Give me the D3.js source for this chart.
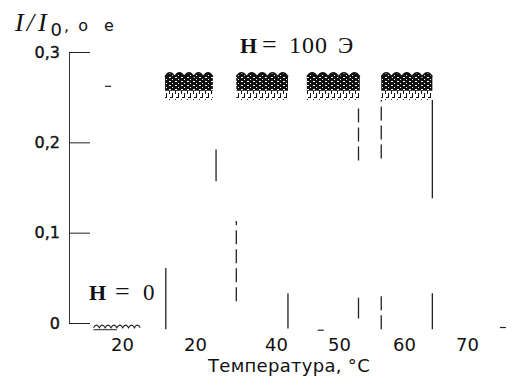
<!DOCTYPE html>
<html>
<head>
<meta charset="utf-8">
<script src="https://cdn.jsdelivr.net/npm/d3@7"></script>
<style>
  html, body { margin: 0; padding: 0; background: #fff; }
  svg { display: block; }
  .tick text { font-family: "DejaVu Sans", sans-serif; fill: #111; }
  .serif { font-family: "Liberation Serif", "Times New Roman", serif; fill: #111; }
</style>
</head>
<body>
<svg id="chart" width="514" height="391"></svg>
<script>
// axis ticks (second label is printed "20" in the original)
const xTicks = [20, 30, 40, 50, 60, 70];
const xTickLabels = ["20", "20", "40", "50", "60", "70"];
const yTicks = [0, 0.1, 0.2, 0.3];
const yTickLabels = ["0", "0,1", "0,2", "0,3"];

// H = 100 Э : temperature windows where the intensity oscillates near 0.26
const bandStart = [25.9, 35.1, 44.9, 56.5];
const bandEnd   = [32.2, 41.9, 53.2, 64.5];
const bandTop   = [0.277, 0.277, 0.277, 0.277];
const bandDense = [0.257, 0.257, 0.257, 0.257];
const bandLow   = [0.247, 0.247, 0.247, 0.247];

// vertical jumps between the windows
const segT    = [26.0, 32.6, 35.1, 41.9, 53.0, 53.0, 56.5, 56.5, 64.5, 64.5];
const segFrom = [-0.007, 0.157, 0.024, -0.006, 0.180, 0.005, 0.182, -0.007, 0.138, -0.007];
const segTo   = [0.061, 0.192, 0.113, 0.033, 0.241, 0.028, 0.247, 0.032, 0.247, 0.033];
const segDash = [false, false, true, false, true, false, true, true, false, false];

// stray short marks
const dashT = [18.1, 47.1, 75.7];
const dashV = [0.262, -0.008, -0.005];

// H = 0 : weak signal near zero
const h0Start = [16.1];
const h0End   = [22.5];
const h0Level = [-0.003];

const svg = d3.select("#chart");

const x = d3.scaleLinear().domain(xTicks).range([122, 195, 276, 339, 404, 467]);
const y = d3.scaleLinear().domain([0, 0.3]).range([323, 52]);

// patterns imitating the dense oscillation trace
const defs = svg.append("defs");
const dense = defs.append("pattern").attr("id", "dense")
  .attr("patternUnits", "userSpaceOnUse").attr("width", 6).attr("height", 4);
dense.append("rect").attr("width", 6).attr("height", 4).attr("fill", "#111");
dense.append("rect").attr("x", 1).attr("y", 1).attr("width", 2).attr("height", 1).attr("fill", "#fff");
dense.append("rect").attr("x", 4).attr("y", 3).attr("width", 1).attr("height", 1).attr("fill", "#fff");

const sparse = defs.append("pattern").attr("id", "sparse")
  .attr("patternUnits", "userSpaceOnUse").attr("width", 6).attr("height", 9);
sparse.append("rect").attr("x", 1).attr("y", 0).attr("width", 1).attr("height", 4).attr("fill", "#111");
sparse.append("rect").attr("x", 4).attr("y", 3).attr("width", 1).attr("height", 5).attr("fill", "#111");
sparse.append("rect").attr("x", 2).attr("y", 7).attr("width", 2).attr("height", 1).attr("fill", "#111");

// y axis, ticks pointing inward
const yAxis = svg.append("g")
  .attr("transform", "translate(69,0)")
  .call(d3.axisLeft(y).tickValues(yTicks)
    .tickFormat((d, i) => yTickLabels[i])
    .tickSize(-21).tickSizeOuter(0).tickPadding(9));
yAxis.select(".domain").attr("stroke", "#333");
yAxis.selectAll(".tick line").attr("stroke", "#222");
yAxis.selectAll(".tick text").attr("font-size", 16)
  .attr("stroke", "#111").attr("stroke-width", 0.4);

// x axis: labels only
const xAxis = svg.append("g")
  .attr("transform", "translate(0,335)")
  .call(d3.axisBottom(x).tickValues(xTicks)
    .tickFormat((d, i) => xTickLabels[i])
    .tickSize(0).tickPadding(3));
xAxis.select(".domain").remove();
xAxis.selectAll(".tick text").attr("font-size", 18);

// windows
const bands = svg.append("g").selectAll("g").data(bandStart).join("g");
bands.each(function (d, i) {
  const g = d3.select(this);
  const x0 = x(bandStart[i]), x1 = x(bandEnd[i]);
  const yT = y(bandTop[i]), yD = y(bandDense[i]), yL = y(bandLow[i]);
  const n = Math.max(1, Math.round((x1 - x0) / 10.5));
  const w = (x1 - x0) / n;
  const top = d3.path();
  top.moveTo(x0, yT + 4);
  for (let k = 0; k < n; k++) {
    top.quadraticCurveTo(x0 + (k + 0.5) * w, yT - 4, x0 + (k + 1) * w, yT + 4);
  }
  const area = d3.path();
  area.moveTo(x0, yD);
  area.lineTo(x0, yT + 4);
  for (let k = 0; k < n; k++) {
    area.quadraticCurveTo(x0 + (k + 0.5) * w, yT - 4, x0 + (k + 1) * w, yT + 4);
  }
  area.lineTo(x1, yD);
  area.closePath();
  g.append("rect").attr("x", x0).attr("y", yD).attr("width", x1 - x0).attr("height", yL - yD)
    .attr("fill", "url(#sparse)");
  g.append("path").attr("d", area.toString()).attr("fill", "url(#dense)");
  g.append("path").attr("d", top.toString()).attr("fill", "none")
    .attr("stroke", "#111").attr("stroke-width", 1.5);
});

// vertical jumps
svg.append("g").selectAll("line").data(segT).join("line")
  .attr("x1", d => x(d)).attr("x2", d => x(d))
  .attr("y1", (d, i) => y(segFrom[i])).attr("y2", (d, i) => y(segTo[i]))
  .attr("stroke", "#222").attr("stroke-width", 1.3)
  .attr("stroke-dasharray", (d, i) => segDash[i] ? "14,5" : null);

// stray marks
svg.append("g").selectAll("line").data(dashT).join("line")
  .attr("x1", d => x(d) - 3).attr("x2", d => x(d) + 3)
  .attr("y1", (d, i) => y(dashV[i])).attr("y2", (d, i) => y(dashV[i]))
  .attr("stroke", "#222").attr("stroke-width", 1.2);

// H = 0 trace
h0Start.forEach((s, i) => {
  const x0 = x(s), x1 = x(h0End[i]), yy = y(h0Level[i]);
  const n = Math.round((x1 - x0) / 6);
  const w = (x1 - x0) / n;
  const p = d3.path();
  p.moveTo(x0, yy + 2);
  for (let k = 0; k < n; k++) {
    p.quadraticCurveTo(x0 + (k + 0.5) * w, yy - 3, x0 + (k + 1) * w, yy + 2);
  }
  svg.append("path").attr("d", p.toString()).attr("fill", "none")
    .attr("stroke", "#222").attr("stroke-width", 1.2);
  svg.append("line").attr("x1", x0).attr("x2", x0 + (x1 - x0) * 0.5)
    .attr("y1", yy + 4).attr("y2", yy + 4).attr("stroke", "#222").attr("stroke-width", 1);
});

// axis titles and annotations
const title = svg.append("text").attr("class", "serif").attr("x", 15).attr("y", 31);
title.append("tspan").attr("font-style", "italic").attr("font-size", 26).text("I");
title.append("tspan").attr("font-style", "italic").attr("font-size", 26).attr("dx", 3).text("/");
title.append("tspan").attr("font-style", "italic").attr("font-size", 26).attr("dx", 4).text("I");
title.append("tspan").attr("font-family", "DejaVu Sans, sans-serif").attr("font-size", 18)
  .attr("dy", 5).attr("dx", 4).text("0");
title.append("tspan").attr("font-family", "DejaVu Sans, sans-serif").attr("font-size", 16)
  .attr("dy", -5).attr("dx", 2).text(",");
title.append("tspan").attr("font-family", "DejaVu Sans, sans-serif").attr("font-size", 16)
  .attr("dx", 9).text("о");
title.append("tspan").attr("font-family", "DejaVu Sans, sans-serif").attr("font-size", 16)
  .attr("dx", 16).text("е");

svg.append("text")
  .attr("x", 289).attr("y", 372)
  .attr("text-anchor", "middle")
  .attr("font-family", "DejaVu Sans, sans-serif")
  .attr("font-size", 18).attr("letter-spacing", 0.3).attr("fill", "#111")
  .text("Температура, °C");

const h100 = svg.append("text").attr("class", "serif").attr("y", 53).attr("font-size", 23);
h100.append("tspan").attr("x", 240).attr("font-weight", "bold").attr("font-size", 22).text("H");
h100.append("tspan").attr("x", 262).attr("font-size", 26).text("=");
h100.append("tspan").attr("x", 289).attr("font-size", 24).attr("letter-spacing", 1).text("100");
h100.append("tspan").attr("x", 338).text("Э");

const h0 = svg.append("text").attr("class", "serif").attr("y", 300).attr("font-size", 23);
h0.append("tspan").attr("x", 89).attr("font-weight", "bold").attr("font-size", 22).text("H");
h0.append("tspan").attr("x", 115).attr("font-size", 26).text("=");
h0.append("tspan").attr("x", 143).text("0");
</script>
</body>
</html>
